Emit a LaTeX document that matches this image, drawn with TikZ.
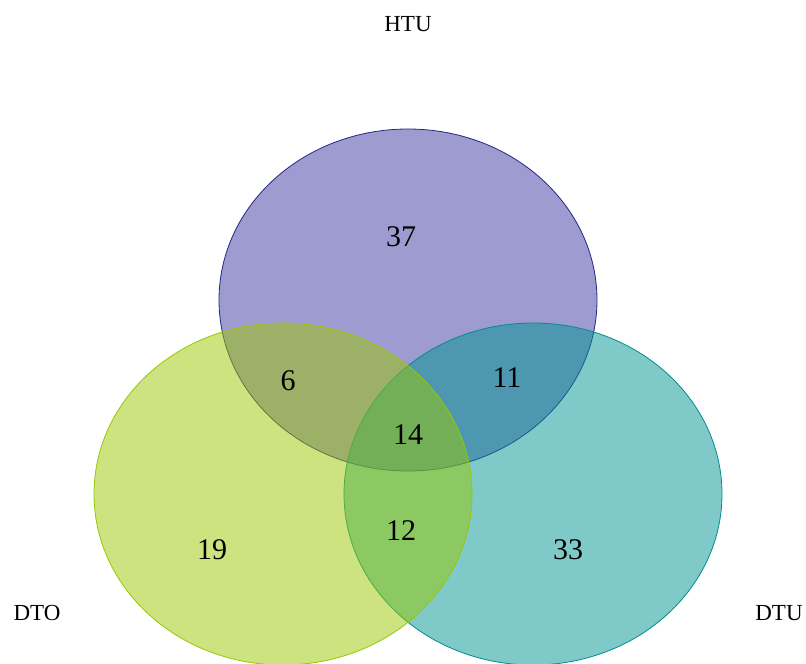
\documentclass[tikz,border=0pt]{standalone}
\usepackage{fontspec}
\setmainfont{Liberation Serif}
\definecolor{htuc}{RGB}{59,56,160}
\definecolor{htue}{RGB}{40,38,130}
\definecolor{dtoc}{RGB}{155,200,0}
\definecolor{dtoe}{RGB}{150,200,0}
\definecolor{dtuc}{RGB}{0,150,145}
\definecolor{dtue}{RGB}{0,140,140}
\begin{document}
\begin{tikzpicture}[x=1pt,y=-1pt,
  setshape/.style={line width=0.8pt, fill opacity=0.5},
  count/.style={font=\fontsize{30}{30}\selectfont, inner sep=0pt},
  setname/.style={font=\fontsize{23}{23}\selectfont, inner sep=0pt}]
  \useasboundingbox (0,0) rectangle (806,664);
  \begin{scope}
    \clip (0,0) rectangle (806,664);
    % the three sets, DTO laid over the others
    \path[setshape, draw=htue, fill=htuc] (408,300) ellipse [x radius=189, y radius=171];
    \path[setshape, draw=dtue, fill=dtuc] (533,494) ellipse [x radius=189, y radius=171];
    \path[setshape, draw=dtoe, fill=dtoc] (283,494) ellipse [x radius=189, y radius=171];
  \end{scope}
  % region counts
  \node[count] (n37) at (401,237) {37};
  \node[count] (n6)  at (288,381) {6};
  \node[count] (n11) at (507,378) {11};
  \node[count] (n14) at (408,435) {14};
  \node[count] (n19) at (212,550) {19};
  \node[count] (n12) at (401,531) {12};
  \node[count] (n33) at (568,550) {33};
  % set names
  \node[setname] (lhtu) at (408,24) {HTU};
  \node[setname] (ldto) at (37,613) {DTO};
  \node[setname] (ldtu) at (779,613) {DTU};
\end{tikzpicture}
\end{document}
